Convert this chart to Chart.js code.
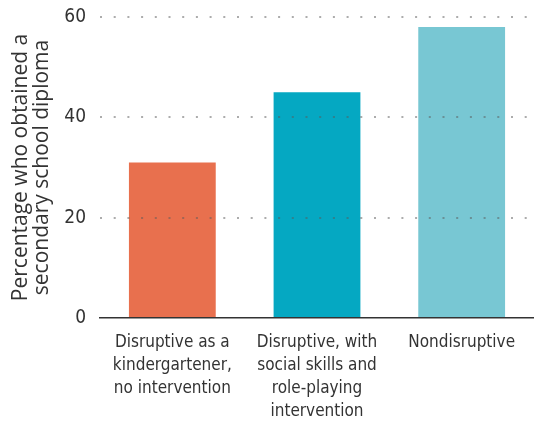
<!DOCTYPE html>
<html>
<head>
<meta charset="utf-8">
<script src="https://cdn.jsdelivr.net/npm/chart.js@4.4.1/dist/chart.umd.min.js"></script>
<style>
  html, body { margin: 0; padding: 0; background: #fff; }
  #wrap { width: 534px; height: 425px; }
</style>
</head>
<body>
<div id="wrap"><canvas id="diplomaChart"></canvas></div>
<script>
const groups = [
    ['Disruptive as a', 'kindergartener,', 'no intervention'],
    ['Disruptive, with', 'social skills and', 'role-playing', 'intervention'],
    ['Nondisruptive']
];
const diplomaPct = [31, 45, 58];
const barColors = ['#e8704e', '#05a8c2', '#78c7d3'];
const yTicks = [0, 20, 40, 60];

const ctx = document.getElementById('diplomaChart');

Chart.defaults.font.family = "'Liberation Sans Narrow', 'DejaVu Sans Condensed', sans-serif";
Chart.defaults.color = '#333';

// eslint-disable-next-line no-unused-vars
const diplomaChart = new Chart(ctx, {
    type: 'bar',
    data: {
        labels: groups,
        datasets: [{
            label: 'Diploma',
            data: diplomaPct,
            backgroundColor: barColors,
            borderWidth: 0,
            barPercentage: 0.6,
            categoryPercentage: 1
        }]
    },
    options: {
        responsive: true,
        maintainAspectRatio: false,
        animation: false,
        layout: {
            padding: { top: 17, right: 0, bottom: 0, left: 11 }
        },
        plugins: {
            legend: { display: false },
            tooltip: { enabled: false }
        },
        scales: {
            x: {
                grid: { display: false, drawTicks: false },
                border: { color: '#333', width: 1.5, z: 2 },
                ticks: {
                    font: { size: 17, lineHeight: 1.35 },
                    padding: 13,
                    maxRotation: 0,
                    autoSkip: false
                },
                afterFit: axis => { axis.height = 107; }
            },
            y: {
                min: 0,
                max: 60,
                afterBuildTicks: axis => {
                    axis.ticks = yTicks.map(v => ({ value: v }));
                },
                afterFit: axis => { axis.width = 89; },
                grid: {
                    z: 1,
                    drawTicks: true,
                    tickLength: 11,
                    tickColor: 'rgba(0,0,0,0)',
                    lineWidth: 2,
                    color: c => c.tick.value === 0 ? 'rgba(0,0,0,0)' : 'rgba(90,90,90,0.5)'
                },
                border: { display: false, dash: [2, 11.7] },
                ticks: {
                    font: { size: 19 },
                    padding: 3
                },
                title: {
                    display: true,
                    text: ['Percentage who obtained a', 'secondary school diploma'],
                    font: { family: "'Open Sans', sans-serif", size: 21, lineHeight: 1.0 },
                    color: '#333',
                    padding: { top: 0, bottom: 2 }
                }
            }
        }
    }
});
</script>
</body>
</html>
